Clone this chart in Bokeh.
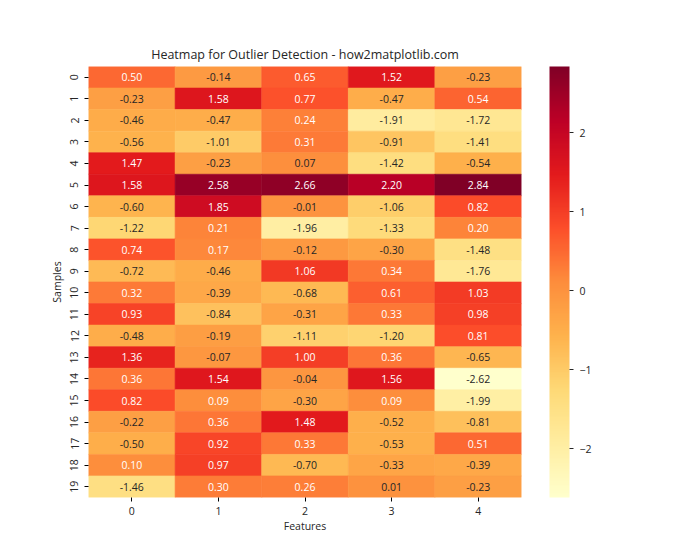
import numpy as np
from bokeh.plotting import figure
from bokeh.models import (ColumnDataSource, FactorRange, LinearColorMapper, ColorBar,
                          FixedTicker)
from bokeh.core.properties import value
from bokeh.embed import file_html
from bokeh.resources import INLINE

features = ["0", "1", "2", "3", "4"]
samples = [str(i) for i in range(20)]
values = [
    [0.50, -0.14, 0.65, 1.52, -0.23],
    [-0.23, 1.58, 0.77, -0.47, 0.54],
    [-0.46, -0.47, 0.24, -1.91, -1.72],
    [-0.56, -1.01, 0.31, -0.91, -1.41],
    [1.47, -0.23, 0.07, -1.42, -0.54],
    [1.58, 2.58, 2.66, 2.20, 2.84],
    [-0.60, 1.85, -0.01, -1.06, 0.82],
    [-1.22, 0.21, -1.96, -1.33, 0.20],
    [0.74, 0.17, -0.12, -0.30, -1.48],
    [-0.72, -0.46, 1.06, 0.34, -1.76],
    [0.32, -0.39, -0.68, 0.61, 1.03],
    [0.93, -0.84, -0.31, 0.33, 0.98],
    [-0.48, -0.19, -1.11, -1.20, 0.81],
    [1.36, -0.07, 1.00, 0.36, -0.65],
    [0.36, 1.54, -0.04, 1.56, -2.62],
    [0.82, 0.09, -0.30, 0.09, -1.99],
    [-0.22, 0.36, 1.48, -0.52, -0.81],
    [-0.50, 0.92, 0.33, -0.53, 0.51],
    [0.10, 0.97, -0.70, -0.33, -0.39],
    [-1.46, 0.30, 0.26, 0.01, -0.23],
]
cbar_ticks = [-2, -1, 0, 1, 2]

# YlOrRd colormap (matplotlib anchors), interpolated to 256 entries
anchors = ['#ffffcc', '#ffeda0', '#fed976', '#feb24c', '#fd8d3c',
           '#fc4e2a', '#e31a1c', '#bd0026', '#800026']
anc = np.array([[int(c[i:i + 2], 16) for i in (1, 3, 5)] for c in anchors], float)
pos = np.linspace(0, 1, len(anchors))
t = np.linspace(0, 1, 256)
lut = np.stack([np.interp(t, pos, anc[:, k]) for k in range(3)], axis=1)
palette = ["#%02x%02x%02x" % tuple(int(round(v)) for v in row) for row in lut]

flat = [v for r in values for v in r]
vmin, vmax = min(flat), max(flat)


def text_color(v):
    idx = int(np.clip((v - vmin) / (vmax - vmin) * 255, 0, 255))
    rgb = lut[idx] / 255.0
    lin = np.where(rgb <= 0.03928, rgb / 12.92, ((rgb + 0.055) / 1.055) ** 2.4)
    lum = 0.2126 * lin[0] + 0.7152 * lin[1] + 0.0722 * lin[2]
    return "#262626" if lum > 0.408 else "white"


xs, ys, vs, labels, tcols = [], [], [], [], []
for i, s in enumerate(samples):
    for j, f in enumerate(features):
        v = values[i][j]
        xs.append(f)
        ys.append(s)
        vs.append(v)
        labels.append(f"{v:.2f}")
        tcols.append(text_color(v))

src = ColumnDataSource(dict(x=xs, y=ys, v=vs, label=labels, tc=tcols))
mapper = LinearColorMapper(palette=palette, low=vmin, high=vmax)

FONT = "Open Sans"

p = figure(width=684, height=544, output_backend="svg", toolbar_location=None,
           x_range=FactorRange(factors=features),
           y_range=FactorRange(factors=list(reversed(samples))),
           title="Heatmap for Outlier Detection - how2matplotlib.com",
           min_border_left=88, min_border_top=66, min_border_bottom=47,
           min_border_right=163)
p.x_range.range_padding = 0
p.y_range.range_padding = 0

p.rect(x="x", y="y", width=1, height=1, source=src,
       fill_color={"field": "v", "transform": mapper},
       line_color={"field": "v", "transform": mapper}, line_width=0.6)
p.text(x="x", y="y", text="label", source=src, text_color="tc",
       text_align="center", text_baseline="middle",
       text_font=value(FONT), text_font_size="10.5px")

p.title.align = "center"
p.title.text_font = FONT
p.title.text_font_size = "12.5px"
p.title.text_font_style = "normal"
p.title.text_color = "#262626"
p.title.standoff = 7

p.grid.visible = False
p.outline_line_color = None
for ax in (p.xaxis[0], p.yaxis[0]):
    ax.axis_line_color = None
    ax.major_tick_out = 4
    ax.major_tick_in = 0
    ax.minor_tick_line_color = None
    ax.major_label_text_font = FONT
    ax.major_label_text_font_size = "10.5px"
    ax.major_label_text_color = "#262626"
    ax.axis_label_text_font = FONT
    ax.axis_label_text_font_size = "10.5px"
    ax.axis_label_text_font_style = "normal"
    ax.axis_label_text_color = "#262626"
p.xaxis.axis_label = "Features"
p.yaxis.axis_label = "Samples"
p.yaxis.major_label_orientation = "vertical"
p.xaxis.major_label_standoff = 5
p.yaxis.major_label_standoff = 6
p.xaxis.axis_label_standoff = 1
p.yaxis.axis_label_standoff = 4

cb = ColorBar(color_mapper=mapper, width=20, height=431, padding=0, margin=0,
              location=(28, 0),
              ticker=FixedTicker(ticks=cbar_ticks),
              major_tick_out=4, major_tick_in=0,
              major_tick_line_color="#262626",
              minor_tick_line_color=None, bar_line_color=None,
              border_line_color=None, background_fill_color=None,
              major_label_text_font=FONT, major_label_text_font_size="10.5px",
              major_label_text_color="#262626", label_standoff=6)
p.add_layout(cb, "right")

open("out.html", "w").write(file_html(p, INLINE))
